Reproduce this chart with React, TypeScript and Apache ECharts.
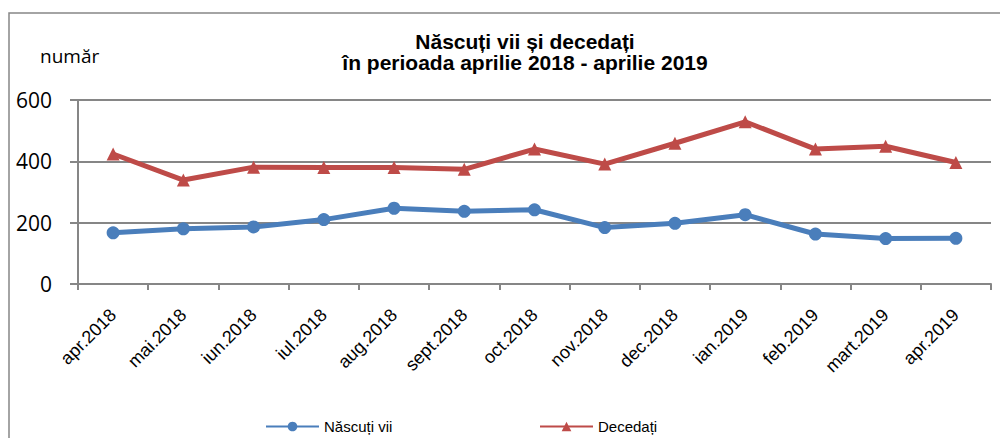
import React, { useEffect, useRef } from "react";
import * as echarts from "echarts";

const categories = [
  "apr.2018", "mai.2018", "iun.2018", "iul.2018", "aug.2018", "sept.2018", "oct.2018",
  "nov.2018", "dec.2018", "ian.2019", "feb.2019", "mart.2019", "apr.2019",
];
const nascutiVii = [167, 180, 186, 210, 247, 237, 242, 184, 198, 226, 163, 148, 149];
const decedati = [424, 339, 381, 380, 380, 374, 440, 391, 459, 529, 440, 449, 396];
const yTicks = { min: 0, max: 600, interval: 200 };
const titleLines = ["Născuți vii și decedați", "în perioada aprilie 2018 - aprilie 2019"];
const yUnit = "număr";
const seriesNames = ["Născuți vii", "Decedați"];

export default function App() {
  const ref = useRef<HTMLDivElement>(null);
  useEffect(() => {
    if (!ref.current) return;
    const chart = echarts.init(ref.current, null, { renderer: "svg" });
    const gray = "#868686";
    const legendText = { fontFamily: "Liberation Sans", fontSize: 15, color: "#000" };
    chart.setOption({
      animation: false,
      backgroundColor: "#fff",
      title: {
        text: titleLines.join("\n"),
        left: 520,
        top: 26,
        textAlign: "center",
        textStyle: {
          fontFamily: "Liberation Sans",
          fontSize: 21,
          fontWeight: "bold",
          color: "#000",
          lineHeight: 21,
        },
      },
      graphic: [
        {
          type: "rect",
          shape: { x: 9, y: 13, width: 1200, height: 600 },
          style: { fill: "none", stroke: gray, lineWidth: 1.5 },
          silent: true,
          z: -1,
        },
        {
          type: "text",
          x: 40,
          y: 56,
          style: {
            text: yUnit,
            fontFamily: "Open Sans",
            fontSize: 19,
            fill: "#000",
            textVerticalAlign: "middle",
          },
        },
      ],
      legend: [
        {
          data: [seriesNames[0]],
          left: 260,
          top: 414,
          itemWidth: 53,
          itemHeight: 12,
          textStyle: legendText,
        },
        {
          data: [seriesNames[1]],
          left: 534,
          top: 414,
          itemWidth: 53,
          itemHeight: 12,
          textStyle: legendText,
        },
      ],
      grid: { left: 78, right: 9, top: 100, bottom: 154, containLabel: false },
      xAxis: {
        type: "category",
        data: categories,
        boundaryGap: true,
        axisLine: { lineStyle: { color: gray, width: 2 } },
        axisTick: { show: true, length: 6, lineStyle: { color: gray, width: 2 } },
        axisLabel: {
          rotate: 45,
          margin: 28,
          fontFamily: "Liberation Sans",
          fontSize: 18,
          color: "#000",
          interval: 0,
        },
      },
      yAxis: {
        type: "value",
        min: yTicks.min,
        max: yTicks.max,
        interval: yTicks.interval,
        axisLine: { show: true, lineStyle: { color: gray, width: 2 } },
        axisTick: { show: true, length: 8, lineStyle: { color: gray, width: 2 } },
        splitLine: { lineStyle: { color: gray, width: 2 } },
        axisLabel: {
          margin: 26,
          fontFamily: "Open Sans",
          fontSize: 21,
          color: "#000",
        },
      },
      series: [
        {
          name: seriesNames[0],
          type: "line",
          data: nascutiVii,
          symbol: "circle",
          symbolSize: 13,
          lineStyle: { width: 5, color: "#4A7EBB" },
          itemStyle: { color: "#4A7EBB" },
          z: 3,
        },
        {
          name: seriesNames[1],
          type: "line",
          data: decedati,
          symbol: "triangle",
          symbolSize: 13,
          lineStyle: { width: 5, color: "#BE4B48" },
          itemStyle: { color: "#BE4B48" },
          z: 3,
        },
      ],
    });
    return () => chart.dispose();
  }, []);
  return (
    <div
      ref={ref}
      style={{ position: "fixed", left: 0, top: 0, width: 1000, height: 438 }}
    />
  );
}
